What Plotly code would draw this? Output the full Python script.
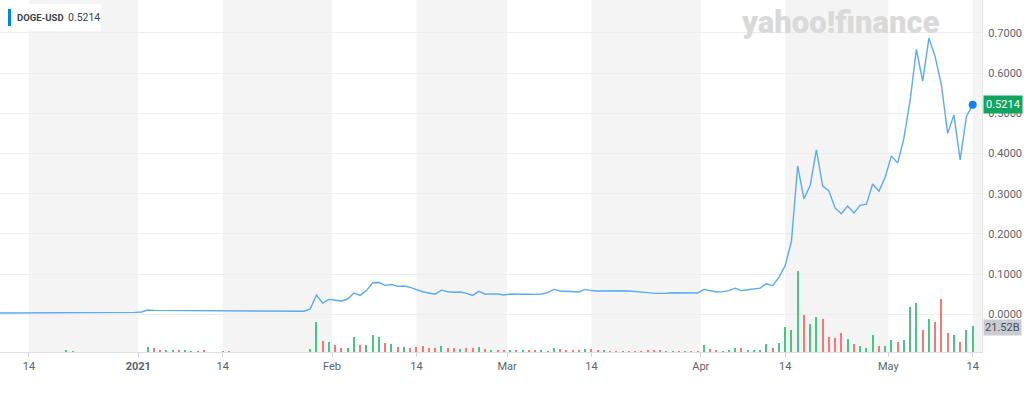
import pandas as pd
import plotly.graph_objects as go

# ---- data (daily closes in USD, volume in billions) ----
start_date = "2020-12-09"
end_date = "2021-05-14"

close_dec = [0.0033, 0.0033, 0.0032, 0.0033, 0.0034, 0.0034, 0.0034, 0.0035, 0.0037, 0.0037,
             0.0039, 0.0046, 0.0048, 0.0047, 0.0044, 0.0045, 0.0045, 0.0045, 0.0046, 0.0046,
             0.0047, 0.0046, 0.0047]
close_jan = [0.0057, 0.0106, 0.0098, 0.0097, 0.0100, 0.0101, 0.0098, 0.0099, 0.0101, 0.0098,
             0.0090, 0.0091, 0.0094, 0.0096, 0.0093, 0.0094, 0.0092, 0.0093, 0.0090, 0.0088,
             0.0081, 0.0084, 0.0083, 0.0084, 0.0082, 0.0081, 0.0075, 0.0128, 0.048, 0.028, 0.037]
close_feb = [0.035, 0.033, 0.038, 0.053, 0.047, 0.059, 0.0785, 0.0790, 0.072, 0.074,
             0.0695, 0.0705, 0.067, 0.062, 0.056, 0.053, 0.050, 0.060, 0.056, 0.055,
             0.0555, 0.052, 0.047, 0.057, 0.050, 0.0507, 0.0503, 0.048]
close_mar = [0.0505, 0.0500, 0.0505, 0.0498, 0.0495, 0.0505, 0.054, 0.062, 0.058, 0.057,
             0.0565, 0.0555, 0.062, 0.059, 0.058, 0.0585, 0.058, 0.0578, 0.0585, 0.058,
             0.057, 0.055, 0.054, 0.052, 0.0515, 0.0525, 0.0535, 0.053, 0.054, 0.0535, 0.053]
close_apr = [0.062, 0.058, 0.0555, 0.0565, 0.059, 0.065, 0.059, 0.061, 0.0625, 0.065,
             0.076, 0.071, 0.092, 0.121, 0.181, 0.369, 0.287, 0.320, 0.409, 0.319,
             0.307, 0.264, 0.250, 0.269, 0.252, 0.271, 0.274, 0.324, 0.306, 0.341]
close_may = [0.394, 0.376, 0.438, 0.533, 0.659, 0.580, 0.687, 0.641, 0.570, 0.450,
             0.496, 0.384, 0.492, 0.5214]

# volumes too small to show in the picture are read as 0
vol_dec = [0, 0, 0, 0, 0, 0, 0, 0, 0, 0,
           0, 0.9, 0.8, 0, 0, 0, 0, 0, 0, 0,
           0, 0, 0]
vol_jan = [0, 3.9, 3.4, 2.0, 1.1, 1.0, 0.9, 0.9, 0.8, 0.8,
           0.9, 0, 0, 0.7, 0.7, 0, 0, 0, 0, 0,
           0, 0, 0, 0, 0, 0, 0, 2.2, 25.2, 9.0, 8.7]
vol_feb = [6.2, 3.6, 3.6, 12.6, 6.2, 6.2, 14.3, 12.9, 7.8, 7.0,
           4.2, 4.2, 3.1, 4.2, 4.8, 3.4, 3.1, 4.8, 3.1, 3.6,
           2.8, 3.6, 3.1, 4.2, 2.2, 2.0, 1.7, 1.7]
vol_mar = [1.7, 1.7, 1.7, 1.7, 1.7, 1.5, 0.8, 3.4, 2.8, 1.7,
           1.7, 1.7, 2.4, 2.8, 2.0, 1.7, 0.8, 0.8, 0.8, 0.8,
           0.8, 0.8, 1.2, 0.9, 1.2, 0.8, 0.8, 0.8, 0.8, 0.8, 0.8]
vol_apr = [6.2, 2.2, 1.7, 0.8, 1.7, 3.1, 3.1, 2.0, 2.0, 2.0,
           7.0, 3.1, 7.6, 20.7, 18.2, 67.8, 31.4, 23.5, 29.7, 28.0,
           12.6, 12.1, 16.0, 10.9, 7.0, 5.3, 3.4, 14.0, 4.8, 5.3]
vol_may = [9.8, 8.1, 10.4, 37.8, 41.2, 18.8, 27.7, 25.2, 44.6, 16.0,
           14.6, 8.7, 18.8, 21.52]

tick_vals = ["2020-12-14 12:00", "2021-01-01", "2021-01-14 12:00", "2021-02-01",
             "2021-02-14 12:00", "2021-03-01", "2021-03-14 12:00", "2021-04-01",
             "2021-04-14 12:00", "2021-05-01", "2021-05-14 12:00"]
tick_text = ["14", "<b>2021</b>", "14", "Feb", "14", "Mar", "14", "Apr", "14", "May", "14"]

price_ticks = [0.0, 0.1, 0.2, 0.3, 0.4, 0.5, 0.6, 0.7]

symbol = "DOGE-USD"
last_price_text = "0.5214"
last_volume_text = "21.52B"

# ---- assemble ----
close = close_dec + close_jan + close_feb + close_mar + close_apr + close_may
volume = [v * 1e9 for v in vol_dec + vol_jan + vol_feb + vol_mar + vol_apr + vol_may]
dates = pd.date_range(start_date, end_date, freq="D") + pd.Timedelta(hours=12)

GREEN = "#48c784"
RED = "#ff7474"
bar_colors = [GREEN] + [GREEN if close[i] >= close[i - 1] else RED for i in range(1, len(close))]

FONT = "Roboto, Liberation Sans, sans-serif"
AXIS_GRAY = "#5b636a"

fig = go.Figure()

fig.add_trace(go.Bar(
    x=dates, y=volume, yaxis="y2",
    marker=dict(color=bar_colors, line=dict(width=0)),
    width=0.34 * 86400000,
    hoverinfo="skip", showlegend=False,
))

fig.add_trace(go.Scatter(
    x=dates, y=close, mode="lines",
    line=dict(color="#5aaaf4", width=1.4),
    hoverinfo="skip", showlegend=False,
))

fig.add_trace(go.Scatter(
    x=[dates[-1]], y=[close[-1]], mode="markers",
    marker=dict(color="#0a84f0", size=8),
    hoverinfo="skip", showlegend=False,
))

# alternating half-month shading
band_edges = [("2020-12-14 12:00", "2021-01-01"), ("2021-01-14 12:00", "2021-02-01"),
              ("2021-02-14 12:00", "2021-03-01"), ("2021-03-14 12:00", "2021-04-01"),
              ("2021-04-14 12:00", "2021-05-01"), ("2021-05-14 12:00", "2021-05-17")]
shapes = []
for a, b in band_edges:
    shapes.append(dict(type="rect", xref="x", yref="paper", x0=a, x1=b, y0=0, y1=1,
                       fillcolor="#f4f4f4", line=dict(width=0), layer="below"))

PW, PH = 982.0, 352.0
# legend box
shapes.append(dict(type="rect", xref="paper", yref="paper",
                   x0=2 / PW, x1=101 / PW, y0=(PH - 31) / PH, y1=(PH - 4) / PH,
                   fillcolor="white", line=dict(width=0), layer="above"))
shapes.append(dict(type="rect", xref="paper", yref="paper",
                   x0=8 / PW, x1=11 / PW, y0=(PH - 26) / PH, y1=(PH - 9) / PH,
                   fillcolor="#0081f2", line=dict(width=0), layer="above"))

annotations = [
    dict(text="<b>" + symbol + "</b>", xref="paper", yref="paper", x=15 / PW, y=(PH - 17.5) / PH,
         xanchor="left", yanchor="middle", showarrow=False,
         font=dict(family=FONT, size=9.5, color="#3b4249")),
    dict(text=last_price_text, xref="paper", yref="paper", x=66 / PW, y=(PH - 17.5) / PH,
         xanchor="left", yanchor="middle", showarrow=False,
         font=dict(family=FONT, size=10.5, color="#3b4249")),
    dict(text="yahoo!finance", xref="paper", yref="paper", x=840 / PW, y=(PH - 22) / PH,
         xanchor="center", yanchor="middle", showarrow=False,
         font=dict(family="Roboto, sans-serif", size=31, color="#d9d9d9", weight=900)),
    dict(text=last_price_text, xref="paper", yref="y", x=1, y=close[-1],
         xanchor="left", yanchor="middle", xshift=1, showarrow=False,
         bgcolor="#12a55f", borderpad=2,
         font=dict(family=FONT, size=11, color="white")),
    dict(text=last_volume_text, xref="paper", yref="y2", x=1, y=volume[-1],
         xanchor="left", yanchor="middle", xshift=1, yshift=-1, showarrow=False,
         bgcolor="#c9ccd0", borderpad=1,
         font=dict(family=FONT, size=11, color="#464e56")),
]

fig.update_layout(
    width=1024, height=396, autosize=False,
    margin=dict(l=0, r=42, t=0, b=44, pad=0),
    paper_bgcolor="white", plot_bgcolor="white",
    bargap=0,
    shapes=shapes, annotations=annotations,
    font=dict(family=FONT, size=11, color=AXIS_GRAY),
    xaxis=dict(
        type="date", range=["2020-12-09 20:56", "2021-05-15 23:50"],
        tickmode="array", tickvals=tick_vals, ticktext=tick_text,
        showgrid=False, zeroline=False,
        showline=True, linecolor="#dde1e6", linewidth=1,
        ticks="outside", ticklen=4, tickcolor="#cfd3d8",
        tickfont=dict(family=FONT, size=11, color=AXIS_GRAY),
        fixedrange=True,
    ),
    yaxis=dict(
        side="right", range=[-0.0938, 0.7818],
        tickmode="array", tickvals=price_ticks, tickformat=".4f",
        showgrid=True, gridcolor="#ededed", gridwidth=1, zeroline=False,
        showline=True, linecolor="#e3e3e3", linewidth=1,
        ticks="", ticklabelstandoff=3,
        tickfont=dict(family=FONT, size=11, color=AXIS_GRAY),
        fixedrange=True,
    ),
    yaxis2=dict(
        overlaying="y", side="right", range=[0, 295.9e9],
        visible=False, fixedrange=True,
    ),
)

fig.write_html("out.html", config={"displayModeBar": False})
